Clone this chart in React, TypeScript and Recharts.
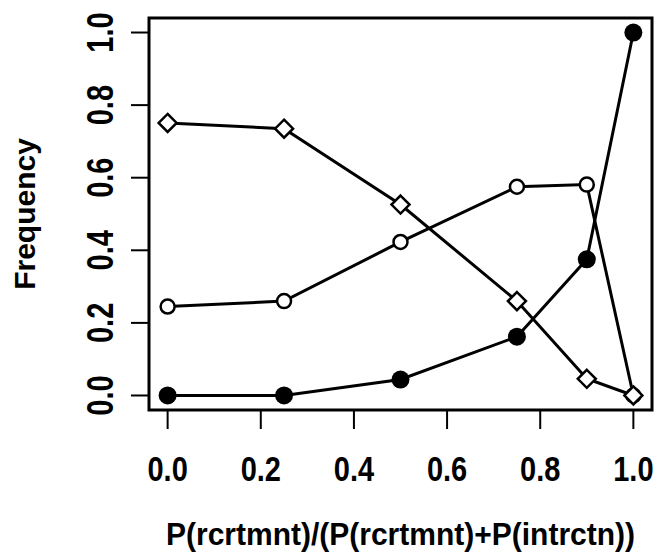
import React from "react";
import {
  LineChart,
  Line,
  XAxis,
  YAxis,
  ReferenceArea,
} from "recharts";

const ratios = [0, 0.25, 0.5, 0.75, 0.9, 1.0];
const filledSeries = [0.0, 0.0, 0.044, 0.162, 0.375, 1.0];
const openSeries = [0.245, 0.26, 0.423, 0.575, 0.581, 0.0];
const diamondSeries = [0.751, 0.735, 0.526, 0.26, 0.046, 0.0];
const tickValues = [0, 0.2, 0.4, 0.6, 0.8, 1.0];
const xTitle = "P(rcrtmnt)/(P(rcrtmnt)+P(intrctn))";
const yTitle = "Frequency";

const data = ratios.map((r, i) => ({
  r,
  filled: filledSeries[i],
  open: openSeries[i],
  diamond: diamondSeries[i],
}));

const FONT = "'Liberation Sans', Arial, Helvetica, sans-serif";

// R's bold helvetica looks taller than Liberation, so stretch a bit
const XTick = (props) => {
  const { x, y, payload } = props;
  return (
    <g transform={`translate(${x},${y + 38}) scale(1,1.18)`}>
      <text
        x={0}
        y={0}
        textAnchor="middle"
        dominantBaseline="central"
        fontFamily={FONT}
        fontWeight="bold"
        fontSize={29}
        fill="#000"
      >
        {payload.value.toFixed(1)}
      </text>
    </g>
  );
};

const YTick = (props) => {
  const { y, payload } = props;
  return (
    <g transform={`translate(100,${y}) rotate(-90) scale(1,1.25)`}>
      <text
        x={0}
        y={0}
        textAnchor="middle"
        dominantBaseline="central"
        fontFamily={FONT}
        fontWeight="bold"
        fontSize={29}
        fill="#000"
      >
        {payload.value.toFixed(1)}
      </text>
    </g>
  );
};

const XTitle = (props) => {
  const vb = props.viewBox;
  const cx = vb.x + vb.width / 2;
  return (
    <g transform={`translate(${cx},${vb.y + 124}) scale(1,1.06)`}>
      <text
        x={0}
        y={0}
        textAnchor="middle"
        dominantBaseline="central"
        fontFamily={FONT}
        fontWeight="bold"
        fontSize={30}
        fill="#000"
      >
        {xTitle}
      </text>
    </g>
  );
};

const YTitle = (props) => {
  const vb = props.viewBox;
  const cy = vb.y + vb.height / 2;
  return (
    <g transform={`translate(24,${cy}) rotate(-90)`}>
      <text
        x={0}
        y={0}
        textAnchor="middle"
        dominantBaseline="central"
        fontFamily={FONT}
        fontWeight="bold"
        fontSize={30}
        fill="#000"
      >
        {yTitle}
      </text>
    </g>
  );
};

const FilledDot = (props) => (
  <circle key={`f-${props.index}`} cx={props.cx} cy={props.cy} r={9} fill="#000" />
);

const OpenDot = (props) => (
  <circle
    key={`o-${props.index}`}
    cx={props.cx}
    cy={props.cy}
    r={7}
    fill="#fff"
    stroke="#000"
    strokeWidth={2.5}
  />
);

const DiamondDot = (props) => {
  const { cx, cy } = props;
  const s = 9;
  return (
    <path
      key={`d-${props.index}`}
      d={`M${cx},${cy - s}L${cx + s},${cy}L${cx},${cy + s}L${cx - s},${cy}Z`}
      fill="#fff"
      stroke="#000"
      strokeWidth={2.5}
    />
  );
};

export default function App() {
  return (
    <div style={{ position: "absolute", left: 0, top: 0, background: "#fff" }}>
      <LineChart
        width={656}
        height={554}
        data={data}
        margin={{ top: 18, right: 4, left: 0, bottom: 0 }}
      >
        <XAxis
          dataKey="r"
          type="number"
          domain={[-0.04, 1.04]}
          ticks={tickValues}
          axisLine={false}
          tickSize={19}
          tickLine={{ stroke: "#000", strokeWidth: 2 }}
          tick={XTick}
          height={144}
          label={{ content: XTitle }}
        />
        <YAxis
          type="number"
          domain={[-0.04, 1.04]}
          ticks={tickValues}
          axisLine={false}
          tickSize={18}
          tickLine={{ stroke: "#000", strokeWidth: 2 }}
          tick={YTick}
          width={149}
          label={{ content: YTitle }}
        />
        <ReferenceArea
          x1={-0.04}
          x2={1.04}
          y1={-0.04}
          y2={1.04}
          fill="none"
          fillOpacity={0}
          stroke="#000"
          strokeWidth={3}
        />
        <Line
          dataKey="filled"
          stroke="#000"
          strokeWidth={3}
          type="linear"
          dot={FilledDot}
          isAnimationActive={false}
        />
        <Line
          dataKey="open"
          stroke="#000"
          strokeWidth={3}
          type="linear"
          dot={OpenDot}
          isAnimationActive={false}
        />
        <Line
          dataKey="diamond"
          stroke="#000"
          strokeWidth={3}
          type="linear"
          dot={DiamondDot}
          isAnimationActive={false}
        />
      </LineChart>
    </div>
  );
}
